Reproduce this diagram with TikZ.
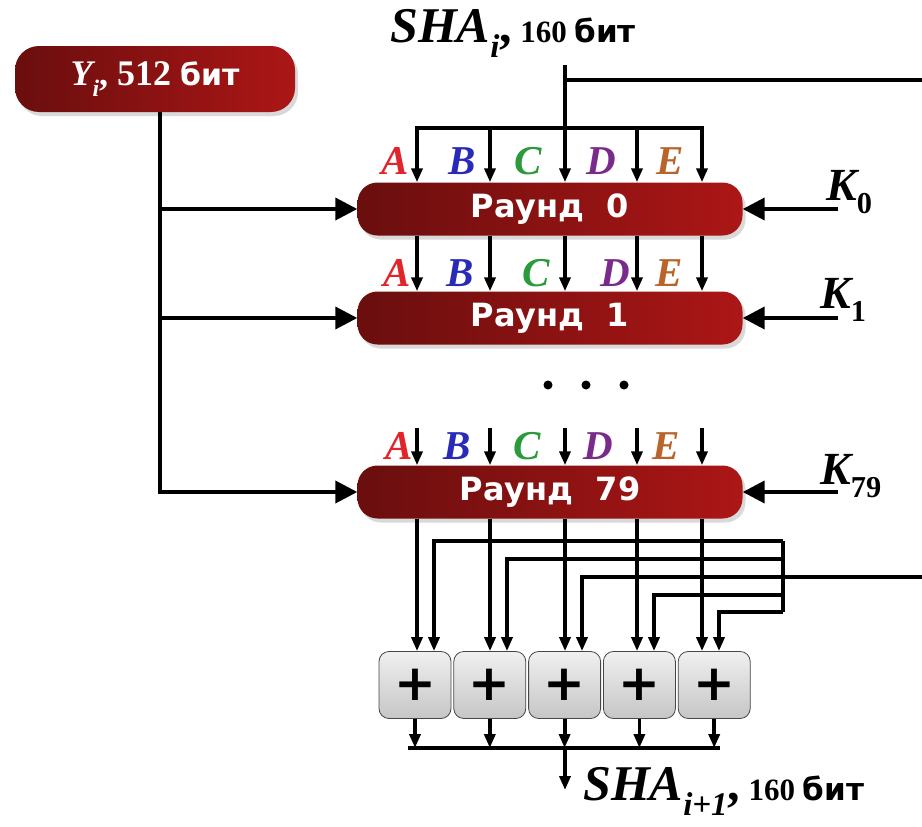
\documentclass[tikz,border=0pt]{standalone}
\usepackage{fontspec}
\setmainfont{Liberation Serif}
\newfontfamily\dvsans{DejaVu Sans}
\usetikzlibrary{arrows.meta,positioning,shadows}
\definecolor{roundL}{HTML}{6A0E0E}
\definecolor{roundR}{HTML}{AC1616}
\definecolor{regA}{HTML}{E0262B}
\definecolor{regB}{HTML}{2A2AB8}
\definecolor{regC}{HTML}{2A9A3A}
\definecolor{regD}{HTML}{7A2A8A}
\definecolor{regE}{HTML}{B8642A}
\newcommand{\idx}[1]{\raisebox{-0.3em}{\scalebox{0.66}{#1}}}
\newcommand{\bitw}{{\dvsans\bfseries\upshape бит}}

\begin{document}
\begin{tikzpicture}[x=1pt,y=-1pt,
  wire/.style={line width=3.8pt},
  colarr/.style={wire,-{Triangle[length=14pt,width=11pt]}},
  bigarr/.style={wire,-{Triangle[length=22pt,width=22pt]}},
  redbox/.style={inner sep=0pt,left color=roundL,right color=roundR,text=white,
    drop shadow={opacity=0.3,shadow xshift=3pt,shadow yshift=-4pt}},
  roundbox/.style={redbox,rounded corners=20pt,minimum width=385pt,minimum height=53pt,
    font=\dvsans\bfseries\fontsize{32}{36}\selectfont},
  adder/.style={rounded corners=10pt,minimum width=72pt,minimum height=67pt,inner sep=0pt,
    top color=gray!12,bottom color=gray!45,draw=gray!55!black,thick,
    font=\dvsans\bfseries\fontsize{50}{50}\selectfont},
  reg/.style={anchor=base,inner sep=0pt,font=\bfseries\itshape\fontsize{41}{42}\selectfont},
  klabel/.style={anchor=base west,inner sep=0pt,font=\bfseries\itshape\fontsize{46}{46}\selectfont},
  shalabel/.style={anchor=base west,inner sep=0pt,font=\bfseries\itshape\fontsize{50}{50}\selectfont}]
\useasboundingbox (0,0) rectangle (922,827);
% Input block and rounds
\node[redbox,rounded corners=24pt,minimum width=280pt,minimum height=66pt,
  font=\bfseries\fontsize{36}{38}\selectfont] (yi) at (155,79)
  {{\itshape Y\idx{i}}, 512 {\fontsize{30}{32}\selectfont\bitw}};
\node[roundbox] (r0) at (550,209) {Раунд~~0};
\node[roundbox] (r1) at (550,318) {Раунд~~1};
\node[roundbox] (r79) at (550,492) {Раунд~~79};
\node[shalabel] (shai) at (390,42) {SHA\idx{i}\upshape,\,{\fontsize{31}{31}\selectfont 160 \bitw}};
% Register letters
\foreach \l/\x in {A/395,B/462,C/528,D/601,E/670} \node[reg,text=reg\l] (a0\l) at (\x,174) {\l};
\foreach \l/\x in {A/397,B/460,C/536,D/615,E/669} \node[reg,text=reg\l] (a1\l) at (\x,286) {\l};
\foreach \l/\x in {A/399,B/457,C/527,D/598,E/666} \node[reg,text=reg\l] (a79\l) at (\x,459) {\l};
\foreach \i/\x in {1/548,2/586,3/624} \fill (\x,385) circle (4.5pt);
% Keys
\node[klabel] (k0) at (826,200) {K\idx{\upshape 0}};
\node[klabel] (k1) at (820,308) {K\idx{\upshape 1}};
\node[klabel] (k79) at (820,484) {K\idx{\upshape 79}};
\coordinate (k0e) at (838,209);
\coordinate (k1e) at (838,318);
\coordinate (k79e) at (838,492);
\draw[bigarr] (k0e) -- (r0.east);
\draw[bigarr] (k1e) -- (r1.east);
\draw[bigarr] (k79e) -- (r79.east);
% Message words
\coordinate (ybus) at ([xshift=5pt]yi.south);
\draw[bigarr] (ybus) |- (r79.west);
\draw[bigarr] (ybus |- r0.west) -- (r0.west);
\draw[bigarr] (ybus |- r1.west) -- (r1.west);
% Columns
\foreach \n/\x in {A/417,B/490,C/565,D/637,E/702} \coordinate (c\n) at (\x,0);
\foreach \n/\x in {A/434,B/507,C/582,D/654,E/719} \coordinate (f\n) at (\x,0);
\coordinate (shain) at (565,65);
\coordinate (topout) at (922,80);
\coordinate (bar) at (565,128);
\coordinate (r79top) at ([yshift=37pt]r79.north);
\draw[wire] (shain |- topout) -- (topout);
\draw[colarr] (shain) -- (r0.north -| cC);
\draw[colarr] (bar -| cE) -- (bar -| cA) -- (r0.north -| cA);
\draw[colarr] (bar -| cA) -- (bar -| cE) -- (r0.north -| cE);
\foreach \n in {B,D} \draw[colarr] (bar -| c\n) -- (r0.north -| c\n);
\foreach \n in {A,B,C,D,E} {
  \draw[colarr] (r0.south -| c\n) -- (r1.north -| c\n);
  \draw[colarr] (r79top -| c\n) -- (r79.north -| c\n);
}
% Final addition
\node[adder] (s1) at (415,685) {+};
\node[adder,right=2pt of s1] (s2) {+};
\node[adder,right=2pt of s2] (s3) {+};
\node[adder,right=2pt of s3] (s4) {+};
\node[adder,right=2pt of s4] (s5) {+};
\coordinate (fbA) at (783,541);
\coordinate (fbB) at (783,559);
\coordinate (fbC) at (783,577);
\coordinate (fbD) at (783,595);
\coordinate (fbE) at (783,612);
\coordinate (fbout) at (922,577);
\draw[wire] (fbA) -- (fbE);
\draw[wire] (fbC) -- (fbout);
\foreach \n/\s in {A/s1,B/s2,C/s3,D/s4,E/s5} {
  \draw[colarr] (fb\n) -| (\s.north -| f\n);
  \draw[colarr] (r79.south -| c\n) -- (\s.north -| c\n);
}
\coordinate (obL) at (408,748);
\coordinate (obR) at (720,748);
\coordinate (shaend) at (565,790);
\draw[wire] (obL) -- (obR);
\foreach \s in {s1,s2,s3,s4,s5} \draw[colarr] (\s.south) -- (\s.south |- obL);
\draw[colarr] (obL -| cC) -- (shaend);
\node[shalabel] (shanext) at (583,800) {SHA\idx{i+1}\upshape,\,{\fontsize{31}{31}\selectfont 160 \bitw}};
\end{tikzpicture}
\end{document}
